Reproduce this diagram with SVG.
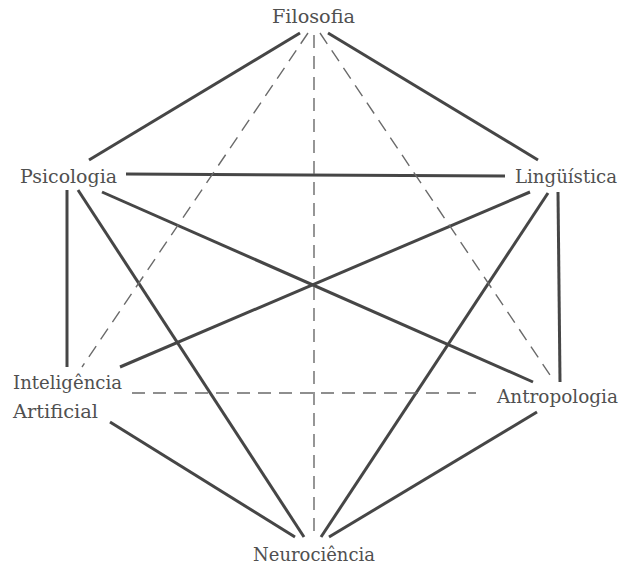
<svg xmlns="http://www.w3.org/2000/svg" width="622" height="567" viewBox="0 0 622 567">
  <style>
    .lbl { font-family: "DejaVu Serif", "Liberation Serif", serif; font-size: 19px; fill: #505050; }
    .solid { stroke: #464646; stroke-width: 3; fill: none; stroke-linecap: butt; }
    .dash { stroke: #6a6a6a; stroke-width: 1.4; fill: none; stroke-dasharray: 13 8; }
  </style>
  <rect width="622" height="567" fill="#ffffff"/>

  <g id="connectors">
    <!-- solid links -->
    <line class="solid" x1="300" y1="33" x2="89" y2="160"/>
    <line class="solid" x1="328" y1="33" x2="538" y2="160"/>
    <line class="solid" x1="126" y1="174" x2="505" y2="176"/>
    <line class="solid" x1="67" y1="190" x2="67" y2="367"/>
    <line class="solid" x1="558" y1="192" x2="560" y2="382"/>
    <line class="solid" x1="78" y1="190" x2="304" y2="537"/>
    <line class="solid" x1="102" y1="192" x2="533" y2="382"/>
    <line class="solid" x1="530" y1="192" x2="120" y2="367"/>
    <line class="solid" x1="548" y1="193" x2="321" y2="537"/>
    <line class="solid" x1="110" y1="422" x2="295" y2="537"/>
    <line class="solid" x1="537" y1="412" x2="329" y2="537"/>
    <!-- dashed links -->
    <line class="dash" x1="314" y1="35" x2="314" y2="532"/>
    <line class="dash" x1="308" y1="33" x2="82" y2="367"/>
    <line class="dash" x1="320" y1="33" x2="550" y2="375"/>
    <line class="dash" x1="132" y1="393" x2="476" y2="393"/>
  </g>

  <g id="filosofia">
    <text class="lbl" x="272" y="23" textLength="83" lengthAdjust="spacingAndGlyphs">Filosofia</text>
  </g>
  <g id="psicologia">
    <text class="lbl" x="20" y="183" textLength="97" lengthAdjust="spacingAndGlyphs">Psicologia</text>
  </g>
  <g id="linguistica">
    <text class="lbl" x="515" y="183" textLength="102" lengthAdjust="spacingAndGlyphs">Lingüística</text>
  </g>
  <g id="inteligencia-artificial">
    <text class="lbl" x="13" y="389" textLength="109" lengthAdjust="spacingAndGlyphs">Inteligência</text>
    <text class="lbl" x="13" y="418" textLength="85" lengthAdjust="spacingAndGlyphs">Artificial</text>
  </g>
  <g id="antropologia">
    <text class="lbl" x="497" y="403" textLength="121" lengthAdjust="spacingAndGlyphs">Antropologia</text>
  </g>
  <g id="neurociencia">
    <text class="lbl" x="253" y="561" textLength="122" lengthAdjust="spacingAndGlyphs">Neurociência</text>
  </g>
</svg>
